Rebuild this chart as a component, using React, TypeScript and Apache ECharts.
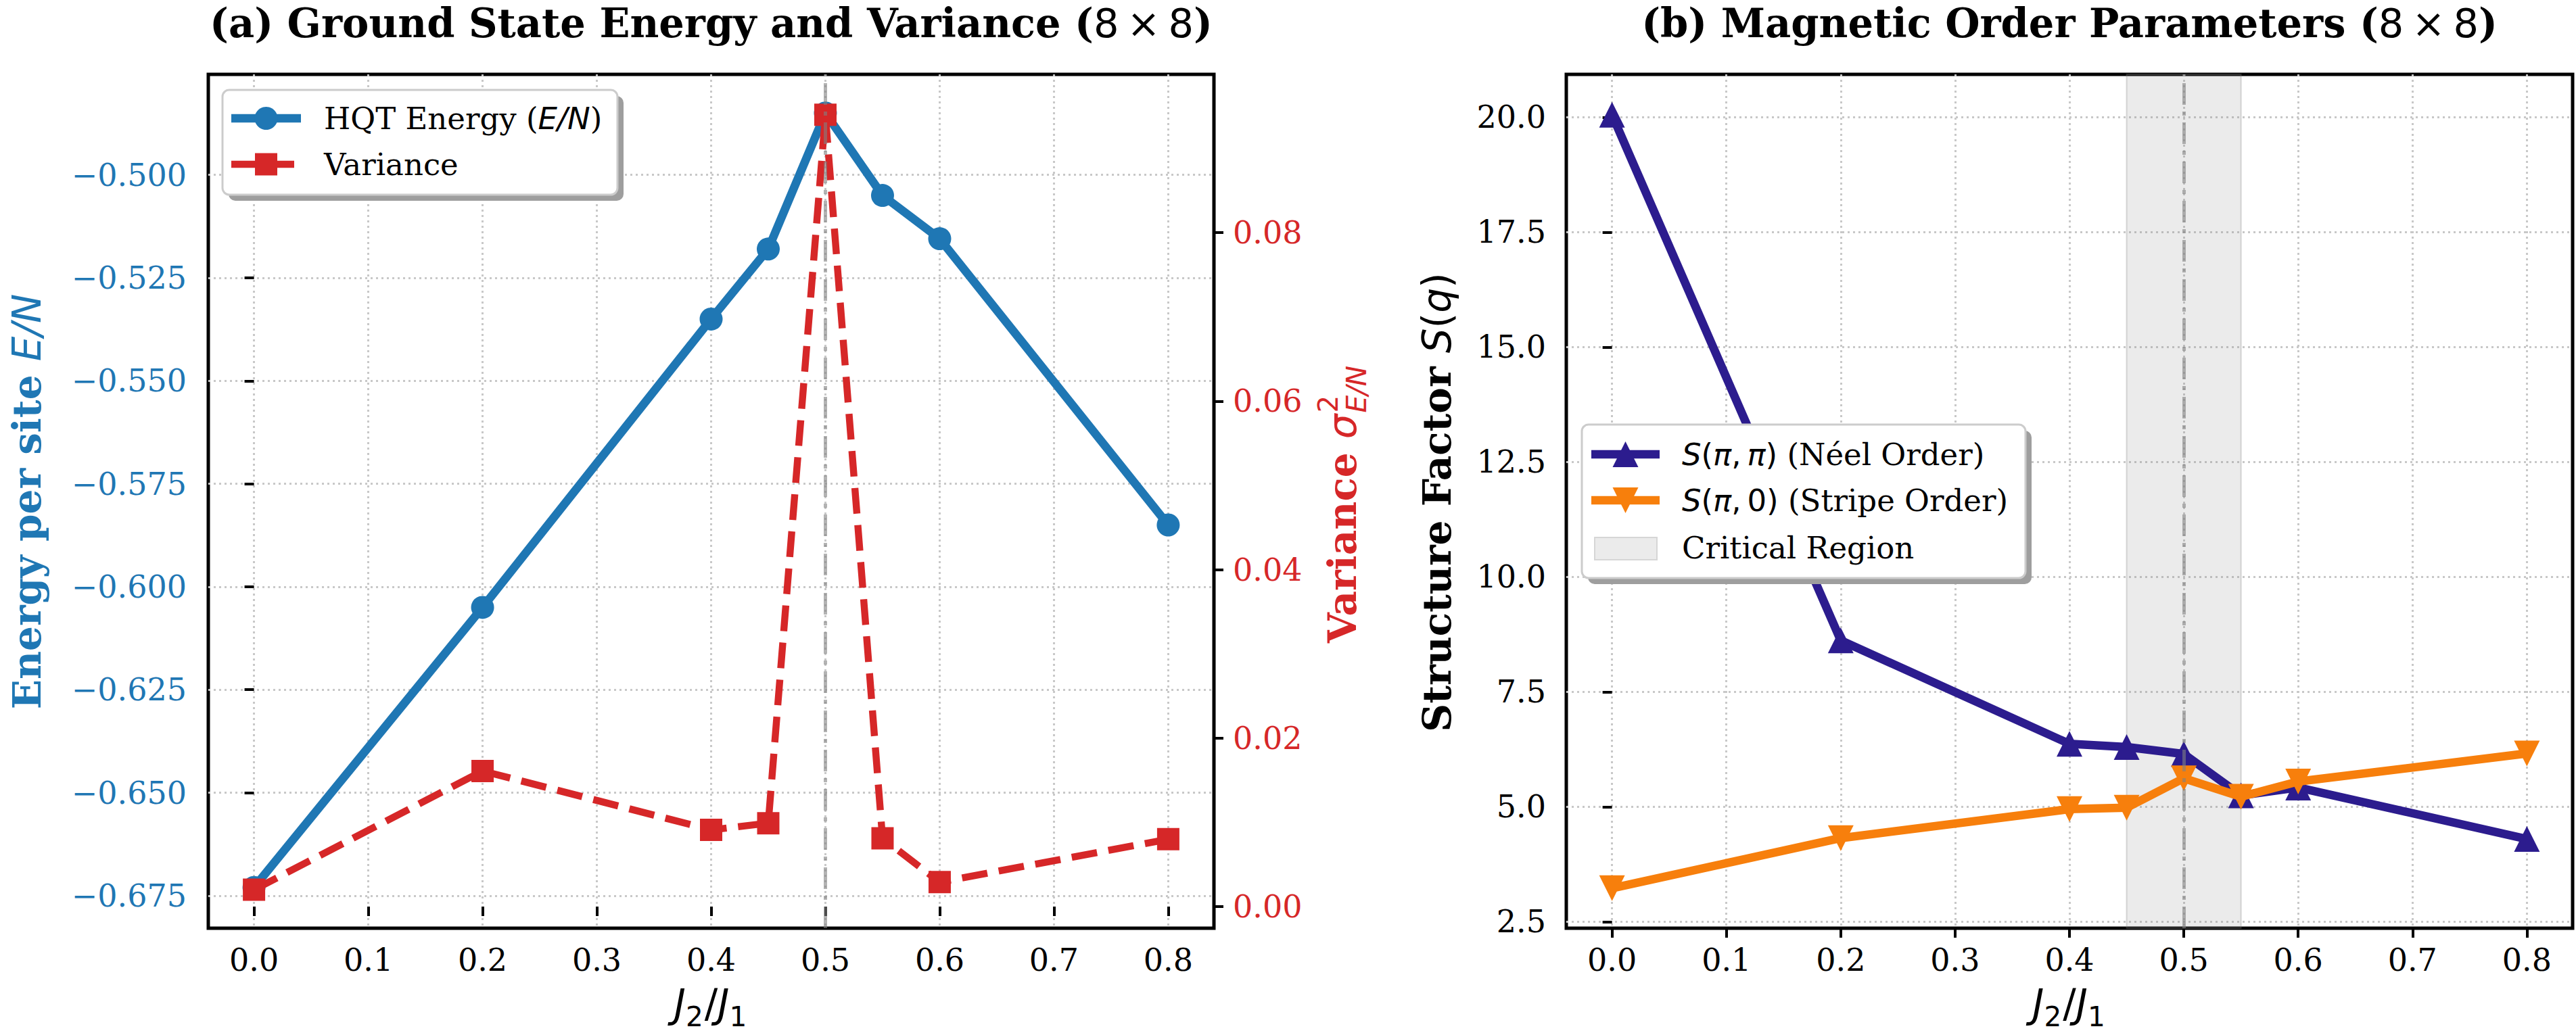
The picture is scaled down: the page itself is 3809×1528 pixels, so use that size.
import React, { useEffect, useRef } from 'react';
import * as echarts from 'echarts';

// Coupling ratios J2/J1 that were simulated
const couplingRatio = [0.0, 0.2, 0.4, 0.45, 0.5, 0.55, 0.6, 0.8];
// (a) HQT ground-state energy per site and its variance
const energyPerSite = [-0.673, -0.605, -0.535, -0.518, -0.485, -0.505, -0.5155, -0.585];
const energyVariance = [0.002, 0.0161, 0.0091, 0.0099, 0.094, 0.0081, 0.0029, 0.008];
// (b) structure factors at the Neel and stripe wave vectors
const neelOrder = [20.05, 8.62, 6.37, 6.3, 6.15, 5.25, 5.42, 4.3];
const stripeOrder = [3.23, 4.32, 4.95, 4.98, 5.62, 5.22, 5.55, 6.16];

// Tick positions
const xTickValues = [0, 0.1, 0.2, 0.3, 0.4, 0.5, 0.6, 0.7, 0.8];
const energyTickValues = [-0.675, -0.65, -0.625, -0.6, -0.575, -0.55, -0.525, -0.5];
const varianceTickValues = [0, 0.02, 0.04, 0.06, 0.08];
const structureTickValues = [2.5, 5, 7.5, 10, 12.5, 15, 17.5, 20];

// Critical region around J2/J1 = 0.5
const criticalRegion = [0.45, 0.55];
const criticalPoint = 0.5;

const BLUE = '#1f77b4';
const RED = '#d62728';
const INDIGO = '#2c1c8e';
const ORANGE = '#f77f0c';

const SERIF = '"DejaVu Serif", serif';
const SANS = '"DejaVu Sans", sans-serif';

const W = 3809;
const H = 1528;
const GRID_A = { left: 308, top: 110, width: 1487, height: 1263 };
const GRID_B = { left: 2316, top: 110, width: 1488, height: 1263 };

const TITLE_FS = 59;
const LABEL_FS = 58;
const SUB_FS = 40.6;
const TICK_FS = 46;
const LEGEND_FS = 45;
// offset from the central baseline (used by the svg renderer) to the alphabetic one
const CENTRAL = 0.346;

const minus = (s: string) => s.replace('-', '\u2212');

export default function App() {
  const ref = useRef<HTMLDivElement>(null);

  useEffect(() => {
    if (!ref.current) return;
    const chart = echarts.init(ref.current, null, { renderer: 'svg' });

    const ctx = document.createElement('canvas').getContext('2d')!;
    const measure = (s: string, font: string) => {
      ctx.font = font;
      return ctx.measureText(s).width;
    };

    const tickStyle = { show: true, length: 14, lineStyle: { color: '#000', width: 4 } };
    const gridLine = { show: true, lineStyle: { color: '#c8c8c8', width: 3, type: [3, 5] as any } };
    const labelBase = { fontFamily: SERIF, fontSize: TICK_FS, color: '#000' };

    const xAxisFor = (gridIndex: number) => ({
      gridIndex,
      type: 'value',
      min: -0.04,
      max: 0.84,
      axisLine: { show: false },
      axisTick: { ...tickStyle, customValues: xTickValues },
      axisLabel: {
        ...labelBase,
        margin: 24,
        customValues: xTickValues,
        formatter: (v: number) => v.toFixed(1),
      },
      splitLine: gridLine,
    });

    const pairs = (ys: number[]) => couplingRatio.map((x, i) => [x, ys[i]]);

    const criticalLine = {
      silent: true,
      symbol: ['none', 'none'],
      label: { show: false },
      emphasis: { disabled: true },
      lineStyle: { color: 'rgba(128,128,128,0.6)', width: 5, type: [32, 10, 6, 10] },
      data: [{ xAxis: criticalPoint }],
    };

    // ---------- graphic helpers ----------
    const Z = 100;
    const textEl = (x: number, baseline: number, text: string, font: any, extra: any = {}) => ({
      type: 'text',
      x,
      y: baseline - CENTRAL * font.fontSize,
      z: Z + 3,
      style: {
        text,
        fill: '#000',
        align: 'left',
        verticalAlign: 'middle',
        ...font,
        ...extra,
      },
    });

    const legendFrame = (x: number, y: number, w: number, h: number) => [
      {
        type: 'rect',
        z: Z,
        shape: { x: x + 9, y: y + 9, width: w, height: h, r: 10 },
        style: { fill: '#9e9e9e' },
      },
      {
        type: 'rect',
        z: Z + 1,
        shape: { x, y, width: w, height: h, r: 10 },
        style: { fill: '#ffffff', stroke: '#cccccc', lineWidth: 3 },
      },
    ];

    const handleLine = (x1: number, x2: number, y: number, color: string, width: number, dash?: number[]) => ({
      type: 'line',
      z: Z + 2,
      shape: { x1, y1: y, x2, y2: y },
      style: { stroke: color, lineWidth: width, lineDash: dash, lineCap: 'butt' },
    });

    const triangle = (cx: number, cy: number, s: number, up: boolean, color: string) => ({
      type: 'polygon',
      z: Z + 3,
      shape: {
        points: up
          ? [[cx, cy - s / 2], [cx + s / 2, cy + s / 2], [cx - s / 2, cy + s / 2]]
          : [[cx, cy + s / 2], [cx + s / 2, cy - s / 2], [cx - s / 2, cy - s / 2]],
      },
      style: { fill: color },
    });

    const richLegend = {
      t: { fontFamily: SERIF, fontSize: LEGEND_FS, fill: '#000' },
      mi: { fontFamily: SANS, fontStyle: 'italic', fontSize: LEGEND_FS, fill: '#000' },
      mr: { fontFamily: SANS, fontSize: LEGEND_FS, fill: '#000' },
    };

    // legend (a)
    const legA = [
      ...legendFrame(329, 133, 584, 155),
      handleLine(342, 445, 175, BLUE, 12.5),
      {
        type: 'circle',
        z: Z + 3,
        shape: { cx: 393.5, cy: 175, r: 17 },
        style: { fill: BLUE },
      },
      {
        type: 'text',
        z: Z + 3,
        x: 479,
        y: 175,
        style: {
          text: '{t|HQT Energy (}{mi|E/N}{t|)}',
          rich: richLegend,
          align: 'left',
          verticalAlign: 'middle',
        },
      },
      handleLine(342, 445, 243, RED, 10.4, [38, 17]),
      {
        type: 'rect',
        z: Z + 3,
        shape: { x: 393.5 - 16.5, y: 243 - 16.5, width: 33, height: 33 },
        style: { fill: RED },
      },
      {
        type: 'text',
        z: Z + 3,
        x: 479,
        y: 243,
        style: { text: '{t|Variance}', rich: richLegend, align: 'left', verticalAlign: 'middle' },
      },
    ];

    // legend (b)
    const legB = [
      ...legendFrame(2339, 628, 656, 227),
      handleLine(2353, 2454, 672, INDIGO, 12.5),
      triangle(2403.5, 672, 38, true, INDIGO),
      {
        type: 'text',
        z: Z + 3,
        x: 2487,
        y: 672,
        style: {
          text: '{mi|S}{mr|(}{mi|π}{mr|,\u2009}{mi|π}{mr|)}{t| (Néel Order)}',
          rich: richLegend,
          align: 'left',
          verticalAlign: 'middle',
        },
      },
      handleLine(2353, 2454, 740, ORANGE, 12.5),
      triangle(2403.5, 740, 38, false, ORANGE),
      {
        type: 'text',
        z: Z + 3,
        x: 2487,
        y: 740,
        style: {
          text: '{mi|S}{mr|(}{mi|π}{mr|,\u20090)}{t| (Stripe Order)}',
          rich: richLegend,
          align: 'left',
          verticalAlign: 'middle',
        },
      },
      {
        type: 'rect',
        z: Z + 2,
        shape: { x: 2358, y: 795, width: 92, height: 33 },
        style: { fill: '#ebebeb', stroke: '#d6d6d6', lineWidth: 2 },
      },
      {
        type: 'text',
        z: Z + 3,
        x: 2487,
        y: 810,
        style: { text: '{t|Critical Region}', rich: richLegend, align: 'left', verticalAlign: 'middle' },
      },
    ];

    // titles
    const titleRich = {
      b: { fontFamily: SERIF, fontWeight: 'bold', fontSize: TITLE_FS, fill: '#000' },
      m: { fontFamily: SANS, fontSize: TITLE_FS, fill: '#000' },
    };
    const titleBaseline = 55;
    const titles = [
      {
        type: 'text',
        z: Z,
        x: GRID_A.left + GRID_A.width / 2,
        y: titleBaseline - CENTRAL * TITLE_FS,
        style: {
          text: '{b|(a) Ground State Energy and Variance (}{m|8\u2009×\u20098}{b|)}',
          rich: titleRich,
          align: 'center',
          verticalAlign: 'middle',
        },
      },
      {
        type: 'text',
        z: Z,
        x: GRID_B.left + GRID_B.width / 2,
        y: titleBaseline - CENTRAL * TITLE_FS,
        style: {
          text: '{b|(b) Magnetic Order Parameters (}{m|8\u2009×\u20098}{b|)}',
          rich: titleRich,
          align: 'center',
          verticalAlign: 'middle',
        },
      },
    ];

    // x-axis label J2/J1, laid out piece by piece
    const xLabel = (cx: number) => {
      const fI = `italic ${LABEL_FS}px ${SANS}`;
      const fS = `${SUB_FS}px ${SANS}`;
      const fR = `${LABEL_FS}px ${SANS}`;
      const wJ = measure('J', fI);
      const w2 = measure('2', fS);
      const wSl = measure('/', fR);
      const w1 = measure('1', fS);
      const total = wJ + w2 + wSl + wJ + w1 + 4;
      let x = cx - total / 2;
      const base = 1505;
      const subShift = 13;
      const items: any[] = [];
      const italic = { fontFamily: SANS, fontStyle: 'italic', fontSize: LABEL_FS };
      const sub = { fontFamily: SANS, fontSize: SUB_FS };
      items.push(textEl(x, base, 'J', italic));
      x += wJ;
      items.push(textEl(x, base + subShift, '2', sub));
      x += w2 + 2;
      items.push(textEl(x, base, '/', { fontFamily: SANS, fontSize: LABEL_FS }));
      x += wSl;
      items.push(textEl(x, base, 'J', italic));
      x += wJ;
      items.push(textEl(x, base + subShift, '1', sub));
      return items;
    };

    // rotated y-axis labels
    const yLabelRich = (baselineX: number, cy: number, text: string, color: string) => ({
      type: 'group',
      x: baselineX,
      y: cy,
      rotation: Math.PI / 2,
      z: Z,
      children: [
        {
          type: 'text',
          z: Z,
          x: 0,
          y: -CENTRAL * LABEL_FS,
          style: {
            text,
            rich: {
              b: { fontFamily: SERIF, fontWeight: 'bold', fontSize: LABEL_FS, fill: color },
              mi: { fontFamily: SANS, fontStyle: 'italic', fontSize: LABEL_FS, fill: color },
              mr: { fontFamily: SANS, fontSize: LABEL_FS, fill: color },
            },
            align: 'center',
            verticalAlign: 'middle',
          },
        },
      ],
    });

    const varianceLabel = () => {
      const wVar = measure('Variance ', `bold ${LABEL_FS}px ${SERIF}`);
      const wSig = measure('σ', `italic ${LABEL_FS}px ${SANS}`);
      const w2 = measure('2', `${SUB_FS}px ${SANS}`);
      const wEN = measure('E/N', `italic ${SUB_FS}px ${SANS}`);
      const total = wVar + wSig + 2 + Math.max(w2, wEN);
      const x0 = -total / 2;
      const bold = { fontFamily: SERIF, fontWeight: 'bold', fontSize: LABEL_FS };
      const col = { fill: RED };
      return {
        type: 'group',
        x: 2005,
        y: 746,
        rotation: Math.PI / 2,
        z: Z,
        children: [
          textEl(x0, 0, 'Variance ', bold, col),
          textEl(x0 + wVar, 0, 'σ', { fontFamily: SANS, fontStyle: 'italic', fontSize: LABEL_FS }, col),
          textEl(x0 + wVar + wSig + 2, -27, '2', { fontFamily: SANS, fontSize: SUB_FS }, col),
          textEl(x0 + wVar + wSig + 2, 15, 'E/N', { fontFamily: SANS, fontStyle: 'italic', fontSize: SUB_FS }, col),
        ],
      };
    };

    const option: any = {
      animation: false,
      backgroundColor: '#ffffff',
      grid: [
        { ...GRID_A, show: true, borderColor: '#000', borderWidth: 5, backgroundColor: 'transparent' },
        { ...GRID_B, show: true, borderColor: '#000', borderWidth: 5, backgroundColor: 'transparent' },
      ],
      xAxis: [xAxisFor(0), xAxisFor(1)],
      yAxis: [
        {
          gridIndex: 0,
          type: 'value',
          position: 'left',
          min: -0.6829,
          max: -0.4756,
          axisLine: { show: false },
          axisTick: { ...tickStyle, customValues: energyTickValues },
          axisLabel: {
            ...labelBase,
            color: BLUE,
            margin: 32,
            customValues: energyTickValues,
            formatter: (v: number) => minus(v.toFixed(3)),
          },
          splitLine: gridLine,
        },
        {
          gridIndex: 0,
          type: 'value',
          position: 'right',
          min: -0.00257,
          max: 0.0988,
          axisLine: { show: false },
          axisTick: { ...tickStyle, customValues: varianceTickValues },
          axisLabel: {
            ...labelBase,
            color: RED,
            margin: 28,
            customValues: varianceTickValues,
            formatter: (v: number) => v.toFixed(2),
          },
          splitLine: { show: false },
        },
        {
          gridIndex: 1,
          type: 'value',
          position: 'left',
          min: 2.36,
          max: 20.93,
          axisLine: { show: false },
          axisTick: { ...tickStyle, customValues: structureTickValues },
          axisLabel: {
            ...labelBase,
            margin: 30,
            customValues: structureTickValues,
            formatter: (v: number) => v.toFixed(1),
          },
          splitLine: gridLine,
        },
      ],
      series: [
        {
          type: 'line',
          name: 'HQT Energy',
          xAxisIndex: 0,
          yAxisIndex: 0,
          data: pairs(energyPerSite),
          symbol: 'circle',
          symbolSize: 34,
          lineStyle: { color: BLUE, width: 12.5 },
          itemStyle: { color: BLUE },
          emphasis: { disabled: true },
          z: 3,
          markLine: criticalLine,
        },
        {
          type: 'line',
          name: 'Variance',
          xAxisIndex: 0,
          yAxisIndex: 1,
          data: pairs(energyVariance),
          symbol: 'rect',
          symbolSize: 33,
          lineStyle: { color: RED, width: 10.4, type: [38, 17] },
          itemStyle: { color: RED },
          emphasis: { disabled: true },
          z: 4,
        },
        {
          type: 'line',
          name: 'Neel',
          xAxisIndex: 1,
          yAxisIndex: 2,
          data: pairs(neelOrder),
          symbol: 'triangle',
          symbolSize: 38,
          lineStyle: { color: INDIGO, width: 12.5 },
          itemStyle: { color: INDIGO },
          emphasis: { disabled: true },
          z: 3,
          markArea: {
            silent: true,
            emphasis: { disabled: true },
            itemStyle: {
              color: 'rgba(128,128,128,0.16)',
              borderColor: 'rgba(128,128,128,0.3)',
              borderWidth: 2,
            },
            data: [[{ xAxis: criticalRegion[0] }, { xAxis: criticalRegion[1] }]],
          },
        },
        {
          type: 'line',
          name: 'Stripe',
          xAxisIndex: 1,
          yAxisIndex: 2,
          data: pairs(stripeOrder),
          symbol: 'triangle',
          symbolRotate: 180,
          symbolSize: 38,
          lineStyle: { color: ORANGE, width: 12.5 },
          itemStyle: { color: ORANGE },
          emphasis: { disabled: true },
          z: 4,
          markLine: criticalLine,
        },
      ],
      graphic: [
        ...titles,
        ...legA,
        ...legB,
        ...xLabel(GRID_A.left + GRID_A.width / 2),
        ...xLabel(GRID_B.left + GRID_B.width / 2),
        yLabelRich(60, 742, '{b|Energy per site }{mi|E/N}', BLUE),
        yLabelRich(2145, 743, '{b|Structure Factor }{mi|S}{mr|(}{mi|q}{mr|)}', '#000'),
        varianceLabel(),
      ],
    };

    chart.setOption(option);
    return () => chart.dispose();
  }, []);

  return (
    <div
      ref={ref}
      style={{ position: 'absolute', left: 0, top: 0, width: W, height: H, background: '#fff' }}
    />
  );
}
